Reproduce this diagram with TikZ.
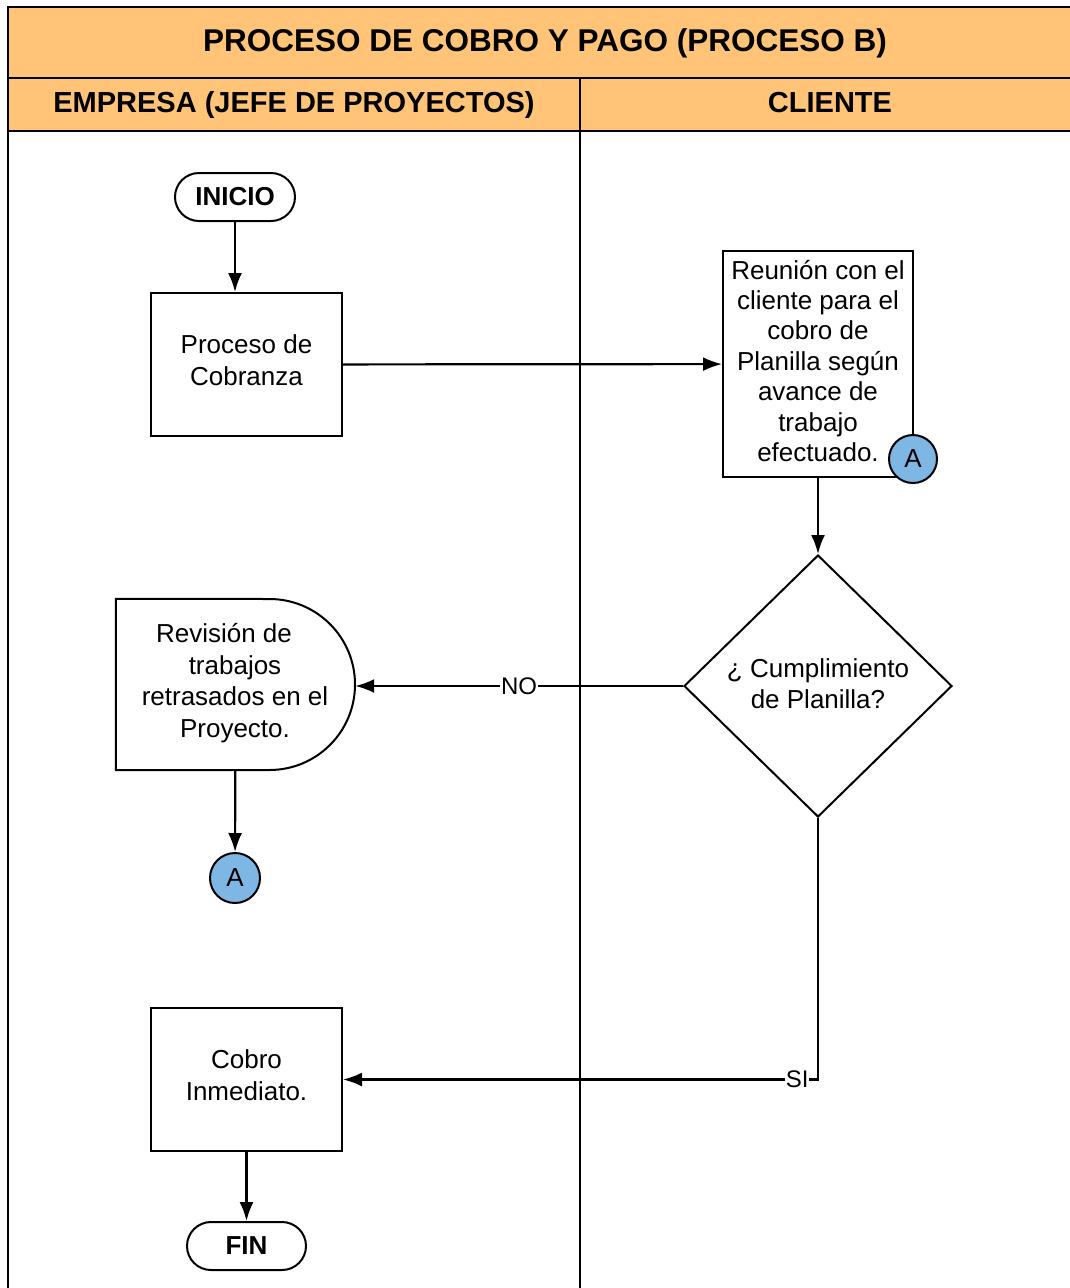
\documentclass[tikz,border=0pt]{standalone}
\usepackage{fontspec}
\setmainfont{Liberation Sans}
\usetikzlibrary{shapes.geometric,arrows.meta}
\definecolor{hdrfill}{RGB}{255,196,120}
\definecolor{connfill}{RGB}{126,182,228}
\begin{document}
\begin{tikzpicture}[x=1pt,y=-1pt,
  body/.style={font=\fontsize{26}{31.5}\selectfont, align=center},
  frame/.style={line width=2.4pt},
  procbox/.style={draw, line width=2pt, body, minimum width=191pt, minimum height=143pt, inner sep=0pt, text depth=9pt},
  terminal/.style={draw, line width=2pt, rounded corners=24pt, font=\bfseries\fontsize{26}{30}\selectfont, minimum height=48pt, inner sep=0pt},
  decision/.style={draw, line width=2pt, diamond, body, minimum width=268pt, minimum height=262pt, inner sep=0pt, text depth=5pt},
  connector/.style={draw, line width=2pt, circle, fill=connfill, font=\fontsize{26}{30}\selectfont, inner sep=0pt},
  flow/.style={line width=2.2pt},
  arr/.style={flow, -{Latex[length=19pt,width=14pt]}},
  lbl/.style={fill=white, inner sep=1pt, font=\fontsize{24}{28}\selectfont},
  lanehead/.style={font=\bfseries\fontsize{29}{34}\selectfont, anchor=base},
]
\useasboundingbox (0,0) rectangle (1070,1288);

% swimlane frame and headers
\fill[hdrfill] (8,7) rectangle (1085,131);
\draw[frame] (8,1300) -- (8,7) -- (1085,7);
\draw[frame] (8,78) -- (1085,78);
\draw[frame] (8,131) -- (1085,131);
\draw[frame] (580,78) -- (580,1300);
\node[font=\bfseries\fontsize{31.5}{36}\selectfont, anchor=base] (title) at (545,51) {PROCESO DE COBRO Y PAGO (PROCESO B)};
\node[lanehead] (lane1) at (294,112) {EMPRESA (JEFE DE PROYECTOS)};
\node[lanehead] (lane2) at (830,112) {CLIENTE};

% flow nodes
\node[terminal, minimum width=120pt] (inicio) at (235,197) {INICIO};
\node[procbox] (cobranza) at (246.5,364.5) {Proceso de\\Cobranza};
\node[procbox, minimum width=190pt, minimum height=226pt, font=\fontsize{26}{30.4}\selectfont, text depth=6.5pt] (reunion) at (818,364)
  {Reunión con el\\cliente para el\\cobro de\\Planilla según\\avance de\\trabajo\\efectuado.};
\node[connector, minimum size=48pt] (aout) at (913,459) {A};
\node[decision] (cumple) at (818,686) {¿ Cumplimiento\\de Planilla?};

% delay-shaped review step
\node[minimum width=239pt, minimum height=171pt, inner sep=0pt] (revision) at (235.5,684.5) {};
\draw[line width=2pt] (revision.north west) -- (269.5,599)
  arc[start angle=-90, end angle=90, radius=85.5] -- (revision.south west) -- cycle;
\node[body] (revtext) at (235,683) {Revisión de\hspace*{22pt}\\trabajos\\retrasados en el\\Proyecto.};
\node[connector, minimum size=50pt] (ain) at (235,878) {A};

\node[procbox] (cobro) at (246.5,1079.5) {Cobro\\Inmediato.};
\node[terminal, minimum width=119pt] (fin) at (246.5,1246) {FIN};

% connectors
\draw[arr] (inicio) -- (inicio |- cobranza.north);
\draw[arr] (cobranza) -- (reunion);
\draw[arr] (reunion) -- (cumple);
\draw[arr] (cumple.west) -- node[lbl, pos=0.5]{NO} (cumple.west -| revision.east);
\draw[arr] (revision) -- (ain);
\draw[arr] (cumple.south) |- node[lbl, pos=0.522]{SI} (cobro.east);
\draw[arr] (cobro) -- (fin);
\end{tikzpicture}
\end{document}
